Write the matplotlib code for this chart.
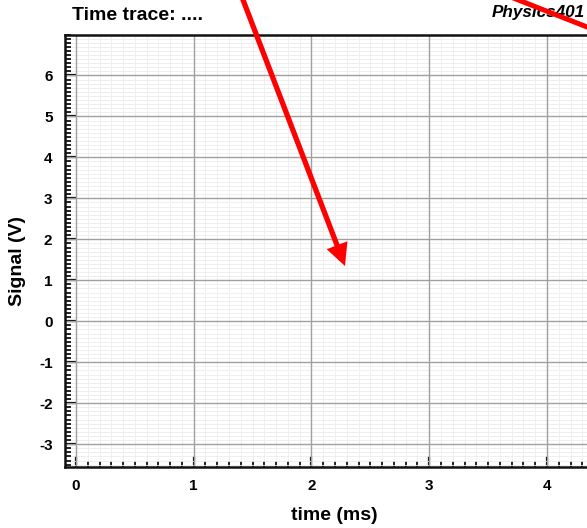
import numpy as np
import matplotlib
matplotlib.use("Agg")
import matplotlib.pyplot as plt
from matplotlib.ticker import MultipleLocator

plt.rcParams['font.family'] = ['Liberation Sans', 'DejaVu Sans']
plt.rcParams['axes.unicode_minus'] = False

# axis setup
x_ticks = [0, 1, 2, 3, 4]
y_ticks = [-3, -2, -1, 0, 1, 2, 3, 4, 5, 6]
x_range = (-0.093, 4.34)
y_range = (-3.55, 7.0)
title_text = "Time trace: ...."
corner_text = "Physics401"
x_label = "time (ms)"
y_label = "Signal (V)"

# red annotation arrows (figure pixels, top-left origin)
arrows = [((240, -8), (345, 266), True),
          ((498, -8), (610, 36), False)]

W, H = 587, 528
fig = plt.figure(figsize=(W / 100, H / 100), dpi=100)
ax = fig.add_axes([65 / W, 1 - 466.7 / H, 1 - 65 / W, (466.7 - 34.5) / H])

ax.set_xlim(*x_range)
ax.set_ylim(*y_range)
ax.set_xticks(x_ticks)
ax.set_yticks(y_ticks)
ax.set_xticklabels([str(v) for v in x_ticks], fontweight='bold', fontsize=11)
ax.set_yticklabels([str(v) for v in y_ticks], fontweight='bold', fontsize=11)
ax.xaxis.set_minor_locator(MultipleLocator(0.1))
ax.yaxis.set_minor_locator(MultipleLocator(0.1))

# faint minor grid from the axis, major grid drawn on top of it
ax.grid(which='minor', color='#ededed', lw=0.6)
ax.set_axisbelow(True)
for v in x_ticks:
    ax.axvline(v, color='#a0a0a0', lw=1.0, zorder=0.9)
for v in y_ticks:
    ax.axhline(v, color='#a0a0a0', lw=1.0, zorder=0.9)

ax.tick_params(which='both', direction='in', top=False, right=False, color='black')
ax.tick_params(which='major', length=8, width=1.6, pad=9)
ax.tick_params(which='minor', length=4, width=1.2)
for s in ['left', 'bottom', 'top']:
    ax.spines[s].set_linewidth(1.8)
    ax.spines[s].set_color('#111111')
ax.spines['right'].set_visible(False)

fig.text(72 / W, 1 - 16 / H, title_text, fontsize=14, fontweight='bold',
         ha='left', va='center')
# drawn under the axes so the red line crosses over it
fig.text(585 / W, 1 - 12 / H, corner_text, fontsize=12.3, fontweight='bold',
         fontstyle='italic', ha='right', va='center', zorder=-1)
fig.text(334 / W, 1 - 515 / H, x_label, fontsize=14, fontweight='bold',
         ha='center', va='center')
fig.text(18 / W, 1 - 261 / H, y_label, fontsize=14, fontweight='bold',
         ha='center', va='center', rotation=90)

for (x0, y0), (x1, y1), head in arrows:
    if head:
        style = dict(arrowstyle='simple,head_width=1.6,head_length=1.6,tail_width=0.38',
                     fc='#ff0000', ec='none', lw=0, shrinkA=0, shrinkB=0,
                     mutation_scale=10)
    else:
        style = dict(arrowstyle='-', color='#ff0000', lw=3.6, shrinkA=0, shrinkB=0)
    ax.annotate('', xy=(x1, H - y1), xytext=(x0, H - y0),
                xycoords='figure pixels', textcoords='figure pixels',
                arrowprops=style, annotation_clip=False)

fig.savefig('out.png', dpi=100)
